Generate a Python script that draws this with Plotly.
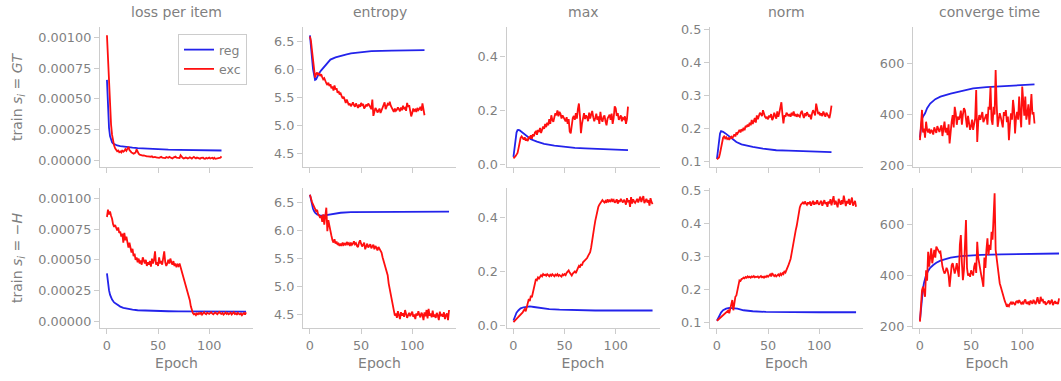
import plotly.graph_objects as go

# ---------------- data ----------------
METRICS = ["loss per item", "entropy", "max", "norm", "converge time"]
ROW_LABELS = ["train <i>s<sub>i</sub></i> = <i>GT</i>", "train <i>s<sub>i</sub></i> = \u2212<i>H</i>"]
SERIES_NAMES = ["reg", "exc"]

# units used in the lists below
LOSS_UNIT = 1e-6
ENT_UNIT = 0.01
MAX_UNIT = 0.001
NORM_UNIT = 0.001
CONV_UNIT = 1.0

# ---- loss per item (x1e-6) ----
loss_top_reg_epochs = [0, 1, 2, 3, 4, 5, 6, 8, 10, 13, 16, 20, 25, 30, 40, 50, 60, 70, 80, 90, 100, 112]
loss_top_reg = [655, 420, 265, 195, 162, 145, 135, 125, 119, 114, 110, 106, 102, 98, 92, 88, 85, 83, 81, 80, 79, 78]
loss_top_exc = [1020, 840, 620, 430, 290, 205, 150, 118, 96, 82,
                72, 78, 64, 70, 62, 80, 68, 74, 88, 76,
                96, 108, 82, 70, 62, 58, 52, 56, 62, 88,
                64, 52, 44, 40, 42, 36, 38, 34, 32, 30,
                30, 28, 24, 27, 30, 22, 24, 26, 21, 20,
                14, 18, 22, 26, 20, 18, 22, 16, 24, 20,
                18, 26, 20, 17, 13, 20, 22, 28, 19, 18,
                20, 16, 38, 22, 18, 12, 18, 20, 17, 12,
                16, 22, 18, 12, 20, 26, 18, 13, 20, 16,
                18, 11, 17, 21, 19, 12, 10, 18, 12, 16,
                20, 12, 17, 19, 11, 18, 10, 13, 19, 16,
                18, 20, 30]
loss_bot_reg_epochs = [0, 1, 2, 3, 4, 5, 7, 10, 13, 16, 20, 25, 30, 40, 50, 60, 70, 80, 90, 100, 110, 120, 136]
loss_bot_reg = [390, 305, 252, 215, 192, 175, 152, 132, 118, 108, 100, 93, 88, 84, 81, 80, 79, 78, 77, 77, 76, 76, 77]
loss_bot_exc = [850, 910, 870, 895, 860, 835, 790, 770, 785, 750,
                740, 765, 720, 730, 690, 715, 640, 720, 660, 690,
                620, 600, 640, 580, 560, 590, 530, 550, 500, 520,
                480, 510, 470, 495, 460, 520, 490, 470, 500, 450,
                480, 460, 490, 445, 510, 470, 500, 570, 460, 480,
                450, 520, 470, 490, 460, 500, 570, 480, 450, 470,
                500, 470, 510, 480, 460, 490, 450, 470, 440, 460,
                450, 470, 440, 410, 380, 360, 330, 300, 270, 240,
                210, 170, 120, 80, 65, 55, 60, 48, 62, 55,
                65, 58, 70, 52, 64, 72, 60, 55, 68, 62,
                58, 66, 72, 60, 55, 64, 70, 62, 56, 68,
                74, 62, 58, 66, 52, 60, 70, 58, 65, 55,
                62, 68, 54, 60, 72, 58, 64, 50, 66, 60,
                55, 62, 48, 58, 66, 52, 70]

# ---- entropy (x0.01) ----
ent_top_reg_epochs = [0, 1, 2, 3, 4, 5, 6, 7, 9, 11, 14, 17, 20, 25, 30, 35, 40, 50, 60, 80, 100, 112]
ent_top_reg = [660, 645, 620, 600, 585, 581, 582, 586, 593, 598, 605, 611, 617, 621, 624, 626, 628, 630, 632, 633, 634, 634]
ent_top_exc = [658, 650, 633, 612, 592, 585, 591, 594, 590, 593,
               588, 591, 586, 582, 584, 578, 575, 572, 576, 570,
               573, 566, 569, 562, 571, 564, 566, 558, 561, 555,
               557, 552, 548, 551, 544, 540, 546, 538, 536, 539,
               534, 537, 541, 536, 533, 539, 535, 531, 537, 533,
               540, 536, 538, 530, 533, 537, 534, 539, 536, 532,
               529, 546, 517, 524, 531, 528, 523, 526, 530, 522,
               527, 533, 536, 541, 529, 533, 538, 536, 542, 535,
               531, 527, 524, 530, 526, 528, 532, 529, 525, 532,
               527, 535, 529, 531, 526, 540, 533, 536, 528, 516,
               522, 530, 526, 528, 524, 531, 527, 529, 533, 526,
               539, 528, 518]
ent_bot_reg_epochs = [0, 1, 2, 3, 4, 5, 7, 10, 13, 17, 20, 25, 30, 40, 60, 80, 100, 136]
ent_bot_reg = [663, 652, 644, 638, 634, 631, 628, 626, 626, 627, 628, 630, 631, 632, 632, 633, 633, 633]
ent_bot_exc = [663, 655, 650, 646, 640, 638, 634, 636, 628, 626,
               622, 626, 615, 628, 610, 622, 640, 598, 618, 608,
               596, 590, 582, 578, 584, 576, 580, 574, 576, 572,
               576, 572, 578, 574, 576, 573, 579, 575, 577, 572,
               578, 574, 576, 580, 575, 577, 572, 570, 578, 582,
               576, 571, 574, 578, 566, 573, 576, 569, 572, 575,
               568, 571, 574, 566, 572, 569, 564, 570, 566, 562,
               560, 552, 545, 540, 532, 525, 520, 505, 495, 485,
               472, 462, 455, 448, 452, 444, 456, 450, 442, 454,
               448, 452, 446, 458, 450, 444, 449, 453, 447, 451,
               455, 446, 450, 442, 452, 448, 456, 449, 445, 453,
               450, 440, 454, 447, 458, 443, 460, 448, 452, 445,
               457, 446, 450, 444, 453, 448, 440, 455, 447, 451,
               446, 454, 442, 449, 452, 440, 458]

# ---- max (x0.001) ----
max_top_reg_epochs = [0, 1, 2, 3, 4, 5, 6, 8, 10, 13, 17, 23, 30, 40, 50, 60, 70, 80, 90, 100, 112]
max_top_reg = [28, 62, 96, 118, 127, 128, 126, 120, 112, 103, 93, 84, 76, 69, 64, 61, 59, 57, 56, 55, 53]
max_top_exc = [22, 25, 30, 36, 42, 60, 82, 98, 104, 96,
               92, 100, 88, 95, 86, 102, 98, 108, 95, 112,
               104, 118, 122, 110, 128, 120, 135, 116, 128, 140,
               132, 150, 138, 155, 145, 168, 150, 182, 165, 158,
               175, 190, 182, 200, 178, 195, 188, 170, 182, 176,
               168, 160, 175, 150, 168, 122, 115, 158, 172, 180,
               165, 190, 170, 205, 226, 180, 116, 150, 172, 190,
               168, 182, 175, 160, 192, 170, 185, 198, 175, 160,
               172, 188, 165, 178, 150, 195, 168, 158, 175, 182,
               160, 145, 170, 178, 184, 165, 188, 150, 172, 215,
               208, 180, 190, 165, 175, 182, 160, 172, 168, 178,
               150, 168, 214]
max_bot_reg_epochs = [0, 1, 2, 3, 5, 7, 10, 13, 16, 20, 26, 35, 45, 60, 80, 100, 136]
max_bot_reg = [18, 30, 40, 47, 56, 63, 67, 69, 70, 68, 64, 60, 58, 56, 55, 55, 55]
max_bot_exc = [12, 16, 20, 24, 28, 32, 36, 40, 43, 48,
               55, 60, 52, 68, 80, 98, 90, 110, 104, 125,
               140, 158, 172, 168, 178, 174, 180, 186, 182, 190,
               186, 188, 184, 190, 186, 182, 188, 184, 190, 186,
               182, 188, 185, 190, 183, 187, 185, 181, 189, 186,
               190, 186, 195, 200, 204, 196, 188, 185, 192, 196,
               200, 194, 206, 212, 220, 215, 228, 222, 234, 238,
               240, 244, 250, 258, 265, 272, 290, 320, 338, 365,
               388, 410, 430, 440, 448, 455, 459, 465, 460, 456,
               462, 455, 468, 460, 464, 458, 470, 462, 466, 455,
               460, 468, 452, 464, 458, 470, 462, 456, 466, 460,
               448, 472, 458, 465, 440, 476, 452, 468, 460, 455,
               462, 470, 456, 464, 478, 458, 466, 480, 454, 462,
               470, 456, 465, 445, 472, 458, 450]

# ---- norm (x0.001) ----
norm_top_reg_epochs = [0, 1, 2, 3, 4, 5, 6, 8, 10, 13, 16, 19, 24, 30, 35, 45, 58, 70, 91, 112]
norm_top_reg = [108, 135, 165, 185, 192, 192, 190, 186, 181, 173, 166, 159, 152, 147, 144, 139, 134, 133, 131, 128]
norm_top_exc = [106, 108, 112, 125, 145, 162, 172, 176, 170, 174,
                168, 171, 166, 172, 175, 170, 178, 182, 176, 188,
                184, 192, 196, 188, 198, 192, 202, 195, 208, 204,
                212, 206, 218, 210, 226, 214, 222, 232, 218, 240,
                228, 236, 248, 244, 238, 256, 242, 236, 232, 236,
                228, 240, 234, 244, 226, 232, 248, 238, 230, 252,
                236, 248, 260, 280, 244, 216, 240, 236, 248, 242,
                238, 244, 236, 248, 240, 252, 238, 244, 236, 242,
                240, 236, 248, 254, 242, 232, 246, 238, 250, 244,
                236, 242, 228, 246, 256, 248, 240, 276, 262, 244,
                250, 240, 246, 238, 252, 244, 236, 248, 242, 238,
                232, 248, 270]
norm_bot_reg_epochs = [0, 1, 2, 3, 4, 6, 9, 12, 16, 20, 26, 35, 48, 70, 100, 136]
norm_bot_reg = [105, 112, 119, 125, 130, 137, 142, 144, 144, 142, 137, 134, 132, 131, 131, 131]
norm_bot_exc = [105, 108, 110, 113, 116, 119, 122, 124, 126, 129,
                132, 136, 128, 142, 152, 168, 137, 160, 178, 182,
                200, 222, 228, 226, 232, 233, 236, 234, 238, 236,
                240, 237, 239, 236, 240, 238, 241, 237, 239, 238,
                240, 236, 238, 241, 237, 239, 236, 240, 238, 242,
                239, 243, 246, 240, 250, 245, 241, 244, 240, 243,
                246, 242, 248, 244, 250, 247, 256, 252, 262, 268,
                275, 284, 293, 310, 330, 349, 365, 380, 394, 415,
                432, 450, 458, 462, 465, 460, 468, 462, 458, 465,
                460, 468, 455, 463, 470, 458, 466, 460, 472, 462,
                458, 466, 470, 455, 464, 472, 460, 466, 452, 468,
                462, 475, 456, 468, 484, 458, 470, 462, 450, 476,
                465, 458, 472, 460, 486, 466, 454, 470, 462, 476,
                458, 468, 480, 455, 462, 470, 452]

# ---- converge time ----
conv_top_reg_epochs = [0, 1, 2, 3, 5, 7, 10, 15, 20, 30, 40, 52, 65, 79, 90, 100, 112]
conv_top_reg = [310, 365, 383, 392, 405, 425, 443, 460, 470, 482, 490, 502, 507, 511, 513, 515, 518]
conv_top_exc = [300, 360, 418, 330, 345, 310, 372, 340, 330, 345,
                326, 340, 335, 322, 350, 338, 328, 355, 340, 332,
                345, 358, 316, 338, 372, 330, 348, 320, 362, 287,
                340, 372, 398, 350, 430, 405, 360, 392, 380, 391,
                415, 360, 400, 425, 417, 372, 350, 395, 368, 340,
                355, 380, 340, 362, 385, 496, 293, 370, 398, 380,
                395, 410, 370, 385, 391, 402, 360, 430, 420, 509,
                380, 360, 430, 400, 574, 440, 352, 380, 405, 390,
                368, 350, 410, 395, 417, 370, 392, 300, 360, 405,
                380, 457, 420, 326, 390, 410, 380, 470, 400, 350,
                509, 420, 395, 470, 380, 404, 440, 360, 420, 480,
                400, 410, 365]
conv_bot_reg_epochs = [0, 1, 2, 3, 4, 5, 6, 8, 10, 13, 16, 20, 25, 30, 40, 50, 60, 80, 100, 120, 136]
conv_bot_reg = [225, 280, 320, 350, 372, 390, 402, 418, 430, 441, 450, 458, 465, 470, 476, 479, 481, 483, 484, 485, 486]
conv_bot_exc = [220, 300, 343, 356, 330, 317, 421, 380, 493, 435,
                470, 506, 448, 480, 500, 470, 513, 505, 498, 490,
                493, 460, 435, 420, 408, 415, 430, 421, 400, 356,
                420, 440, 448, 430, 408, 425, 448, 420, 395, 520,
                558, 450, 382, 420, 520, 617, 430, 400, 408, 395,
                420, 410, 400, 435, 450, 410, 532, 470, 440, 421,
                400, 380, 356, 470, 430, 500, 545, 480, 520, 500,
                571, 540, 620, 721, 500, 461, 420, 382, 370, 356,
                340, 330, 317, 300, 290, 278, 285, 280, 290, 295,
                288, 295, 291, 285, 298, 300, 292, 304, 296, 290,
                295, 288, 300, 306, 292, 291, 298, 285, 302, 296,
                290, 305, 296, 288, 300, 315, 295, 290, 317, 300,
                308, 292, 300, 286, 291, 295, 302, 288, 298, 306,
                285, 292, 300, 290, 296, 288, 311]

X_TICKS = [0, 50, 100]
Y_TICKS = [
    [0, 0.00025, 0.0005, 0.00075, 0.001],
    [4.5, 5.0, 5.5, 6.0, 6.5],
    [0.0, 0.2, 0.4],
    [0.1, 0.2, 0.3, 0.4, 0.5],
    [200, 400, 600],
]
Y_TICKFMT = [".5f", ".1f", ".1f", ".1f", "d"]
Y_RANGES = [
    [-0.000057, 0.001087],
    [4.26, 6.75],
    [-0.010, 0.510],
    [0.083, 0.509],
    [195, 742],
]
UNITS = [LOSS_UNIT, ENT_UNIT, MAX_UNIT, NORM_UNIT, CONV_UNIT]

DATA = [
    [  # top row
        (loss_top_reg_epochs, loss_top_reg, loss_top_exc),
        (ent_top_reg_epochs, ent_top_reg, ent_top_exc),
        (max_top_reg_epochs, max_top_reg, max_top_exc),
        (norm_top_reg_epochs, norm_top_reg, norm_top_exc),
        (conv_top_reg_epochs, conv_top_reg, conv_top_exc),
    ],
    [  # bottom row
        (loss_bot_reg_epochs, loss_bot_reg, loss_bot_exc),
        (ent_bot_reg_epochs, ent_bot_reg, ent_bot_exc),
        (max_bot_reg_epochs, max_bot_reg, max_bot_exc),
        (norm_bot_reg_epochs, norm_bot_reg, norm_bot_exc),
        (conv_bot_reg_epochs, conv_bot_reg, conv_bot_exc),
    ],
]

# ---------------- layout / style ----------------
W, H = 1061, 381
FONT = "DejaVu Sans"
TEXT_C = "#7f7f7f"
SPINE_C = "#cccccc"
BLUE = "rgb(35,35,235)"
RED = "rgb(255,15,15)"

COL_LEFT = [100, 303, 506.5, 710, 913]
COL_W = 153.0
ROW_TOP = [27, 188]
ROW_H = 140.0
X_RANGE = [-6.8, 142.8]

fig = go.Figure()
layout = dict(
    template="none",
    width=W, height=H, autosize=False,
    margin=dict(l=0, r=0, t=0, b=0, pad=0),
    paper_bgcolor="white", plot_bgcolor="white",
    font=dict(family=FONT, color=TEXT_C, size=13),
    showlegend=True,
)
annotations = []

for r in range(2):
    for c in range(5):
        idx = r * 5 + c + 1
        xs = "" if idx == 1 else str(idx)
        x0 = COL_LEFT[c] / W
        x1 = min(1.0, (COL_LEFT[c] + COL_W) / W)
        y1 = 1 - ROW_TOP[r] / H
        y0 = 1 - (ROW_TOP[r] + ROW_H) / H
        px_per_unit = COL_W / (X_RANGE[1] - X_RANGE[0])
        xr = [X_RANGE[0], X_RANGE[0] + (x1 * W - COL_LEFT[c]) / px_per_unit]

        reg_x, reg_y, exc_y = DATA[r][c]
        u = UNITS[c]
        fig.add_trace(go.Scatter(
            x=reg_x, y=[v * u for v in reg_y], mode="lines", name=SERIES_NAMES[0],
            line=dict(color=BLUE, width=1.8), showlegend=(idx == 1),
            xaxis="x" + xs, yaxis="y" + xs, legendgroup="reg"))
        fig.add_trace(go.Scatter(
            x=list(range(len(exc_y))), y=[v * u for v in exc_y], mode="lines", name=SERIES_NAMES[1],
            line=dict(color=RED, width=1.8), showlegend=(idx == 1),
            xaxis="x" + xs, yaxis="y" + xs, legendgroup="exc"))

        axis_common = dict(
            automargin=False,
            showline=True, linecolor=SPINE_C, linewidth=1.3,
            ticks="outside", ticklen=5, tickwidth=1.2, tickcolor=SPINE_C,
            showgrid=False, zeroline=False,
            tickfont=dict(family=FONT, size=12.8, color=TEXT_C),
        )
        xa = dict(axis_common, domain=[x0, x1], range=xr, tickvals=X_TICKS,
                  showticklabels=(r == 1), anchor="y" + xs)
        if r == 1:
            xa["title"] = dict(text="Epoch", font=dict(family=FONT, size=14, color=TEXT_C), standoff=6)
        ya = dict(axis_common, domain=[y0, y1], range=Y_RANGES[c], tickvals=Y_TICKS[c],
                  tickformat=Y_TICKFMT[c], anchor="x" + xs)
        layout["xaxis" + xs] = xa
        layout["yaxis" + xs] = ya

        if r == 0:
            annotations.append(dict(
                text=METRICS[c], xref="paper", yref="paper",
                x=(COL_LEFT[c] + COL_W / 2) / W, y=1 - 12 / H,
                xanchor="center", yanchor="middle", showarrow=False,
                font=dict(family=FONT, size=14, color=TEXT_C)))
    annotations.append(dict(
        text=ROW_LABELS[r], xref="paper", yref="paper",
        x=18 / W, y=1 - (ROW_TOP[r] + ROW_H / 2) / H,
        xanchor="center", yanchor="middle", textangle=-90, showarrow=False,
        font=dict(family=FONT, size=14, color=TEXT_C)))

layout["annotations"] = annotations
layout["legend"] = dict(
    x=178 / W, y=1 - 34 / H, xanchor="left", yanchor="top",
    bordercolor=SPINE_C, borderwidth=1, bgcolor="rgba(255,255,255,0.85)",
    font=dict(family=FONT, size=12.5, color=TEXT_C), itemwidth=30,
    tracegroupgap=0,
)
fig.update_layout(**layout)
# remove the browser's default 8px page margin so the figure sits at the window origin
fig.write_html("out.html",
               config={"displayModeBar": False},
               post_script="document.body.style.margin='0';document.body.style.overflow='hidden';")
